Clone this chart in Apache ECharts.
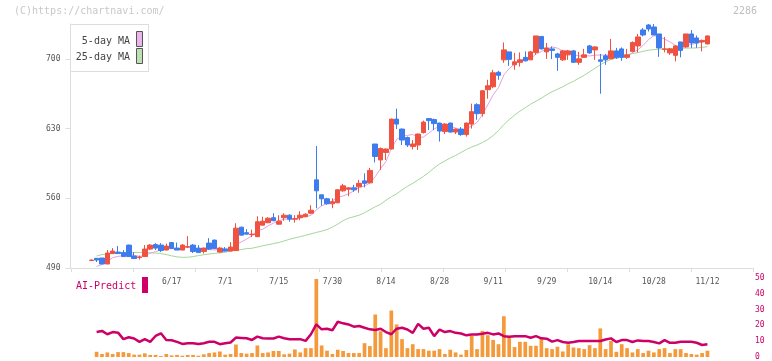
<!DOCTYPE html>
<html><head><meta charset="utf-8">
<script src="https://cdn.jsdelivr.net/npm/echarts@6/dist/echarts.min.js"></script>
<style>html,body{margin:0;padding:0;background:#fff}#c{width:772px;height:361px}</style>
</head><body><div id="c"></div>
<script>
const dates = ['5/27','5/28','5/29','5/30','6/2','6/3','6/4','6/5','6/6','6/9','6/10','6/11','6/12','6/13','6/16','6/17','6/18','6/19','6/20','6/23','6/24','6/25','6/26','6/27','6/30','7/1','7/2','7/3','7/4','7/7','7/8','7/9','7/10','7/11','7/14','7/15','7/16','7/17','7/18','7/22','7/23','7/24','7/25','7/28','7/29','7/30','7/31','8/1','8/4','8/5','8/6','8/7','8/8','8/12','8/13','8/14','8/15','8/18','8/19','8/20','8/21','8/22','8/25','8/26','8/27','8/28','8/29','9/1','9/2','9/3','9/4','9/5','9/8','9/9','9/10','9/11','9/12','9/16','9/17','9/18','9/19','9/22','9/24','9/25','9/26','9/29','9/30','10/1','10/2','10/3','10/6','10/7','10/8','10/9','10/10','10/14','10/15','10/16','10/17','10/20','10/21','10/22','10/23','10/24','10/27','10/28','10/29','10/30','10/31','11/4','11/5','11/6','11/7','11/10','11/11','11/12'];
const tickLabels = ['6/17','7/1','7/15','7/30','8/14','8/28','9/11','9/29','10/14','10/28','11/12'];
const yTicks = [490, 560, 630, 700];
const volTicks = [0, 10, 20, 30, 40, 50];

const opens = [497.5,499.7,500,494,504.5,506,505.5,513,502,500.5,501.5,509,513.5,513,508,515.5,510,508,511,513,510,506.5,515,518,506,509,507,507.5,531,525.5,523.5,521.5,533,535.5,540.5,534,540.5,543,539,540.5,541.5,545,578.5,563.5,559.5,554.5,555.5,567.5,569,570.5,571.5,577.5,575.5,614.5,598.5,606,609.5,639.5,629.5,621,612,613.5,626,640,639,635.5,627,635.5,626.5,629.5,624,634.5,654,645,669,672,686.5,699,707,694,696.5,701.5,699,706.5,722.5,707,710,705,699,704,708,696.5,701.5,713,709,699,703,700,708,710,701.5,707.5,713,729,734,732,725,709.5,706,703.5,717,712,725,721,717,715];
const closes = [498,498,494,505,507,504.5,501.5,501.5,499.5,501,509,513,510,507.5,512,509.5,508,513,511.5,506.5,505.5,510,509,509.5,510,507,511,530,523,524,524,536.5,537,540,537.5,537,543,539,539.5,543,544,548,567.5,559.5,554.5,556.5,568.5,572.5,570.5,568.5,575,575,588,602,610,609.5,639.5,634.5,618.5,613.5,614.5,624.5,636.5,638,635,627.5,634.5,626.5,629.5,624,635.5,647,645,668,673,686,683.5,709,699.5,697,699,698,707,723,710,711,708.5,701.5,708,708,696.5,700,704,706,712,697.5,699,708,701,701.5,704,716.5,722,724,730,724,711,710,710,713,708.5,725,716,716,718.5,723];
const lows = [497.5,496,494,494,504,504,501,501,499,498.5,501,508,508,506,508,509,508,508,510,505,505,504.5,508,509,505.5,506.5,507,507,523,524,521,521,533,535,537,533.5,537.5,536.5,535.5,538,541,544,550,552.5,553.5,550,555,566.5,562,566.5,565.5,571,575,596,588.5,598.5,609,629.5,613.5,611.5,609,608.5,625,628.5,628.5,617,624.5,626,624.5,622.7,622,630,638.8,642,660,670.5,679,696,693,689,692.3,697.4,699,704,709.5,700,699.7,688,698,699,696,694,701,705,699,665,694,700,700,698,700,706.5,706.5,722.5,727.5,724,702,706.5,704,697.5,701.5,711,711,711,707.5,714.5];
const highs = [498.5,500,500,508,510,512,508,513.5,506,502.5,513,514,515,515,514.5,516,515.5,514,522,514,513,510.5,520,518.5,511,511,516,535,531.5,529,528.5,542,541.5,541,545,543,545,544,543,547,545,553,612.5,563.5,560.5,560,569,574.5,571,573.5,578.5,585,590.5,614.5,611,610,640,650,630,622,618.5,625,638,640,640,636,635.5,636,630,631.5,636,655,655.5,668,679,689,688,716.5,707,706,706.5,707.5,708,723,722.5,716,712.5,706,709,709,709,707,710,714,712.5,705,705,720,711,711.5,710,717.5,725,731,735,735,725,722,711,713.5,717,725,729,723.5,719.5,723.5];
const ma5 = [null,491.5,493.5,496.5,500.4,501.7,502.4,503.9,502.8,501.6,502.5,504.8,506.5,508.1,510.3,510.4,509.4,510,510.8,509.7,508.9,509.3,508.5,508.1,508.8,509.1,509.3,513.5,516.2,519,522.4,527.5,528.9,532.3,535,537.6,538.9,539.3,539.2,540.3,541.7,542.7,548.4,552.4,554.7,557.2,561.3,562.3,564.5,567.3,571,572.3,575.4,581.7,590,596.9,609.8,619.1,622.4,623.1,624.1,621.1,621.5,625.4,629.7,632.3,634.3,632.3,630.6,628.4,630,632.5,636.2,643.9,653.7,663.8,671.1,683.9,690.2,695,697.6,700.5,700.1,704.8,707.4,709.8,711.9,710.8,707.8,707.4,704.5,702.8,703.3,702.9,703.7,703.9,703.7,704.5,703.5,701.4,702.7,706.2,709,713.6,719.3,723.3,722.2,719.8,717,713.6,710.5,713.3,714.5,715.7,716.8,719.7];
const ma25 = [null,502,503.5,504,504.5,505,505.3,505.4,505.5,505.5,505.4,505.3,505,504.5,503.5,502.2,501.2,500.7,500.8,501.4,502.5,503.3,504,504.7,505.2,505.8,507,508,508.5,509.5,509.8,511,512.3,513.4,514.5,515.6,517.2,518.8,520.3,521.5,522.8,524.3,525.7,527,528.6,531,534,537.5,540,541.5,543,545.5,548.5,551.5,554,558,561.5,564.5,568.5,572,575,578.5,582,586,590.5,594.5,597.5,600.5,603,606,609,611.5,613.5,616,619,623,628,634,639,643.5,647.5,651,654.5,657.5,660.5,664,667,669.5,672,675,677.5,680.5,683.5,687,690.5,694,697,699.5,701.5,703,704.2,705.3,706.3,707.5,708.7,709.3,709.8,710,710.1,710.4,710.6,710.8,710.8,711,711.6,712.2];
const volume = [null,3.3,1.9,2.9,1.9,3.1,3.1,2.5,1.5,1.5,2.3,1.3,1.3,0.6,1.9,1.0,1.3,0.8,1.3,1.3,0.8,1.7,2.5,2.9,3.5,1.5,1.9,7.9,2.5,2.1,2.5,7.3,2.5,2.9,3.8,3.8,1.7,2.1,4.8,2.9,5.6,5.6,49.4,7.3,4.0,1.9,4.6,3.8,2.5,2.5,2.5,8.75,6.9,26.9,16.3,5.6,29.4,20.6,11.3,5.6,8.1,5,5,4,4,5,1.9,4.6,2.9,1.5,4.4,13.3,5,16.5,13.8,10.8,8.1,25.8,13.3,6.3,9.6,9.6,7.1,7.1,11.7,5.6,5,6.5,3.5,8.1,6,5.6,5,7.5,5.6,18.1,5,10.2,3.3,8.1,5.6,2.9,5,2.5,4,2.9,5,5.6,2.5,5,5,2.5,1.9,1.5,2.5,4];
const aiPredict = [null,15.8,16.5,14.4,15.8,15.4,11.3,12.5,11.7,9.6,11.3,9.6,13.3,15,10.8,10.6,9.6,8.3,8.75,8.75,8.3,8.75,9.6,9.6,8.1,8.75,9.2,12.3,12.1,11.9,10.8,12.9,11.9,11.7,11.7,12.9,11.9,11.3,11.3,11.3,10.2,14.4,20.6,17.5,17.9,16.9,22.3,21.3,20.6,19.2,19.6,18.5,17.5,17.1,17.9,15.8,14.4,17.9,18.5,17.4,15.3,21,17.9,18.5,13.2,17.4,15.8,16.4,15.3,14.9,13.7,14.3,14.3,14.7,15.3,14.3,14.9,13.2,12.8,13.2,13.2,13.2,12.2,13.2,11.8,11.6,9.7,10.7,9.5,9,9.5,10.1,10.1,10.1,10.1,10.1,11.1,11.8,9.5,10.7,10.7,9.5,10.5,10.1,10.1,9.5,8.6,10.7,9,9,9.7,9.7,9.7,9,7.6,8];

const PAD_L = 3, PAD_R = 8;
const cats = [];
for (let i = 0; i < PAD_L; i++) cats.push('_l' + i);
dates.forEach(d => cats.push(d));
for (let i = 0; i < PAD_R; i++) cats.push('_r' + i);
const padFront = arr => new Array(PAD_L).fill('-').concat(arr.map(v => v == null ? '-' : v));
const candleData = new Array(PAD_L).fill(['-','-','-','-']).concat(dates.map((d, i) => [opens[i], closes[i], lows[i], highs[i]]));
const labelSet = new Set(tickLabels);
const ySet = new Set(yTicks);

const MONO = '"DejaVu Sans Mono", monospace';
const chart = echarts.init(document.getElementById('c'), null, {renderer: 'canvas'});
const gL = 72.5, gR = 19;
chart.setOption({
  animation: false,
  backgroundColor: '#fff',
  grid: [
    {left: gL, right: gR, top: 24, bottom: 93},
    {left: 71, right: gR, top: 24, bottom: 93},
    {left: gL, right: gR, top: 278, bottom: 3}
  ],
  xAxis: [
    {type: 'category', gridIndex: 0, data: cats, boundaryGap: true,
     axisLine: {show: false}, axisTick: {show: false}, splitLine: {show: false},
     axisLabel: {interval: (i, v) => labelSet.has(v), color: '#555', fontSize: 8, fontFamily: MONO, margin: 10}},
    {type: 'value', gridIndex: 1, min: 0, max: 11, interval: 1,
     axisLine: {show: true, lineStyle: {color: '#ddd', width: 1}},
     axisTick: {show: true, length: 4, lineStyle: {color: '#ddd'}},
     axisLabel: {show: false}, splitLine: {show: false}},
    {type: 'category', gridIndex: 2, data: cats, boundaryGap: true, show: false}
  ],
  yAxis: [
    {type: 'value', gridIndex: 0, min: 490, max: 735, interval: 70, offset: 2,
     axisLine: {show: true, lineStyle: {color: '#ddd'}},
     axisTick: {show: true, length: 5, lineStyle: {color: '#ddd'}},
     axisLabel: {color: '#555', fontSize: 8, fontFamily: MONO, margin: 10, showMaxLabel: false,
       formatter: v => ySet.has(v) ? String(v) : ''},
     splitLine: {show: false}},
    {type: 'value', gridIndex: 1, min: 0, max: 1, show: false},
    {type: 'value', gridIndex: 2, min: 0, max: 50, interval: 10, position: 'right',
     axisLine: {show: false}, axisTick: {show: false}, splitLine: {show: false},
     axisLabel: {color: '#cc0066', fontSize: 8, fontFamily: MONO, margin: 2,
       formatter: v => volTicks.includes(v) ? String(v) : ''}}
  ],
  series: [
    {type: 'line', name: '25-day MA', xAxisIndex: 0, yAxisIndex: 0, data: padFront(ma25), symbol: 'none',
     lineStyle: {color: '#a6d69a', width: 1}, z: 1, silent: true},
    {type: 'line', name: '5-day MA', xAxisIndex: 0, yAxisIndex: 0, data: padFront(ma5), symbol: 'none',
     lineStyle: {color: '#e2a2e2', width: 1}, z: 1, silent: true},
    {type: 'candlestick', xAxisIndex: 0, yAxisIndex: 0, data: candleData, barWidth: 5, z: 3,
     itemStyle: {color: '#ef5240', color0: '#3e7ced', borderColor: '#ef5240', borderColor0: '#3e7ced', borderWidth: 1}},
    {type: 'bar', xAxisIndex: 2, yAxisIndex: 2, data: padFront(volume), barWidth: 3.7,
     itemStyle: {color: '#f49a3b'}, z: 2},
    {type: 'line', xAxisIndex: 2, yAxisIndex: 2, data: padFront(aiPredict), symbol: 'none',
     lineStyle: {color: '#cc0066', width: 2.5}, z: 3}
  ],
  graphic: [
    {type: 'text', left: 14, top: 6, z: 10, style: {text: '(C)https://chartnavi.com/', fill: '#c8c8c8', font: '10px ' + MONO}},
    {type: 'text', right: 15, top: 6, z: 10, style: {text: '2286', fill: '#bdbdbd', font: '10px ' + MONO}},
    {type: 'rect', z: 20, shape: {x: 70.5, y: 24.5, width: 78, height: 47}, style: {fill: '#fff', stroke: '#ddd', lineWidth: 1}},
    {type: 'text', z: 21, style: {text: '5-day MA', x: 130, y: 41, textAlign: 'right', align: 'right', textVerticalAlign: 'middle', verticalAlign: 'middle', fill: '#444', font: '10px ' + MONO}},
    {type: 'rect', z: 21, shape: {x: 136.5, y: 31.5, width: 6, height: 15}, style: {fill: '#ebb5eb', stroke: '#555', lineWidth: 1}},
    {type: 'text', z: 21, style: {text: '25-day MA', x: 130, y: 57, textAlign: 'right', align: 'right', textVerticalAlign: 'middle', verticalAlign: 'middle', fill: '#444', font: '10px ' + MONO}},
    {type: 'rect', z: 21, shape: {x: 136.5, y: 48.5, width: 6, height: 15}, style: {fill: '#bde0b3', stroke: '#555', lineWidth: 1}},
    {type: 'text', z: 21, style: {text: 'AI-Predict', x: 76, y: 286, textVerticalAlign: 'middle', verticalAlign: 'middle', fill: '#cc0066', font: '10px ' + MONO}},
    {type: 'rect', z: 21, shape: {x: 142, y: 277, width: 6, height: 16}, style: {fill: '#cc0066'}}
  ]
});
</script></body></html>
